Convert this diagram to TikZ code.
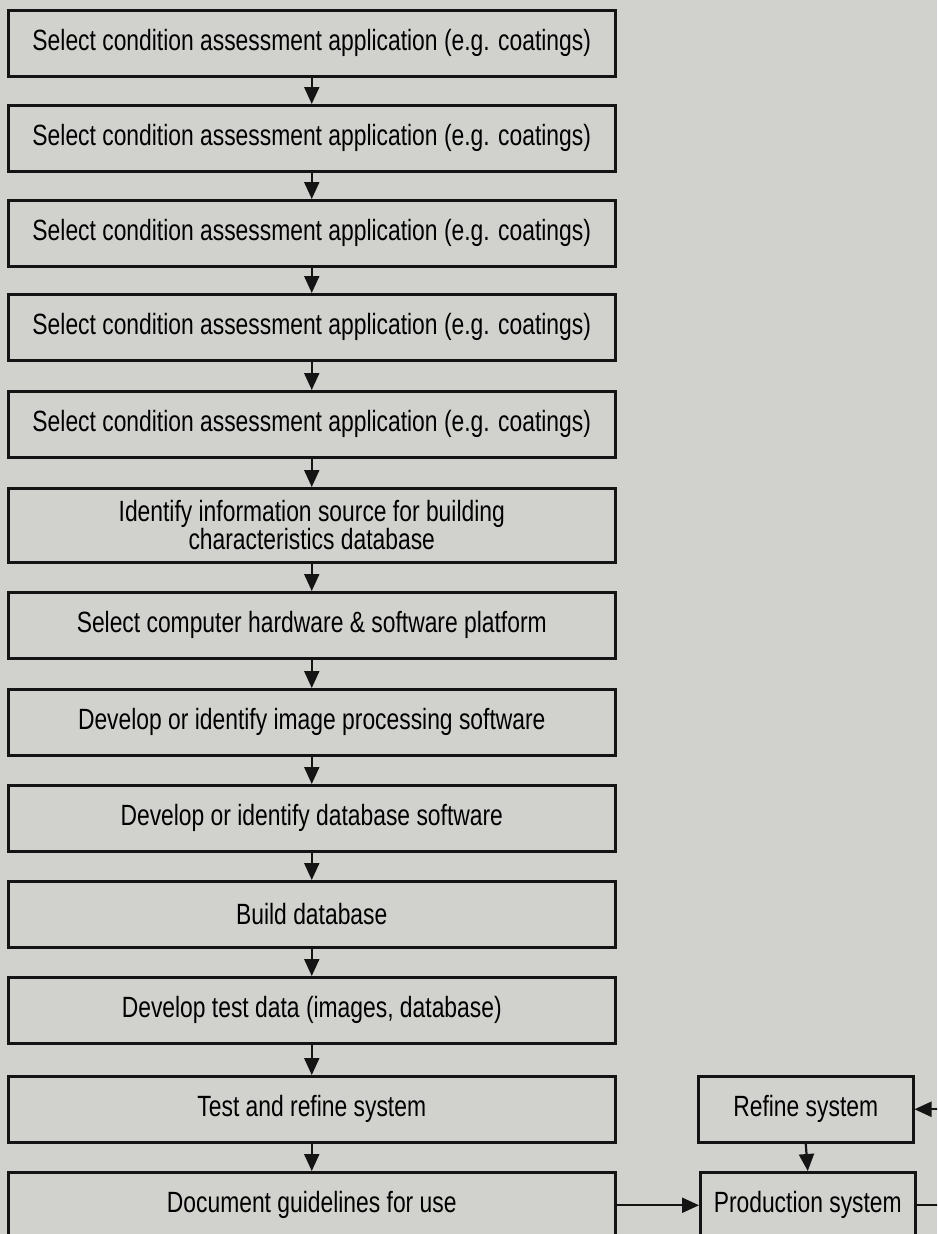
\documentclass[tikz,border=0pt]{standalone}
\usepackage{fontspec}
\setmainfont{Liberation Sans}[FakeStretch=0.78]
\usetikzlibrary{arrows.meta}
\definecolor{paper}{RGB}{209,210,206}
\definecolor{ink}{RGB}{20,20,20}
\begin{document}
\begin{tikzpicture}[x=1pt,y=-1pt,
  stepbox/.style={draw=ink, line width=2.5pt, fill=paper, inner sep=0pt,
    minimum height=66pt, anchor=north west, align=center,
    font=\fontsize{29.3}{26}\selectfont},
  mainbox/.style={stepbox, minimum width=607pt},
  sidebox/.style={stepbox, minimum width=215pt},
  flow/.style={draw=ink, line width=2.2pt,
    -{Triangle[width=15pt,length=17pt]}}
]
\useasboundingbox (0,0) rectangle (937,1234);
\clip (0,0) rectangle (937,1234);
\fill[paper] (0,0) rectangle (937,1234);

% main column of steps
\node[mainbox] (b1)  at (7,9)    {Select condition assessment application (e.g. coatings)};
\node[mainbox] (b2)  at (7,104)  {Select condition assessment application (e.g. coatings)};
\node[mainbox] (b3)  at (7,199)  {Select condition assessment application (e.g. coatings)};
\node[mainbox] (b4)  at (7,293)  {Select condition assessment application (e.g. coatings)};
\node[mainbox] (b5)  at (7,390)  {Select condition assessment application (e.g. coatings)};
\node[mainbox, minimum height=74pt] (b6) at (7,487)
  {Identify information source for building\\characteristics database};
\node[mainbox] (b7)  at (7,591)  {Select computer hardware \& software platform};
\node[mainbox] (b8)  at (7,688)  {Develop or identify image processing software};
\node[mainbox] (b9)  at (7,784)  {Develop or identify database software};
\node[mainbox] (b10) at (7,880)  {Build database};
\node[mainbox] (b11) at (7,976)  {Develop test data (images, database)};
\node[mainbox] (b12) at (7,1075) {Test and refine system};
\node[mainbox] (b13) at (7,1171) {Document guidelines for use};

% side loop
\node[sidebox] (ref)  at (697,1075) {Refine system};
\node[sidebox] (prod) at (699,1171) {Production system};
\coordinate (loopx) at (962,1108);

\foreach \a/\b in {b1/b2,b2/b3,b3/b4,b4/b5,b5/b6,b6/b7,b7/b8,b8/b9,b9/b10,b10/b11,b11/b12,b12/b13}
  \draw[flow] (\a.south) -- (\b.north);

\draw[flow] (b13.east) -- (prod.west);
\draw[flow] (ref.south) -- (prod.north);
\draw[flow] (prod.east) -- (prod.east -| loopx) |- (ref.east);
\end{tikzpicture}
\end{document}
